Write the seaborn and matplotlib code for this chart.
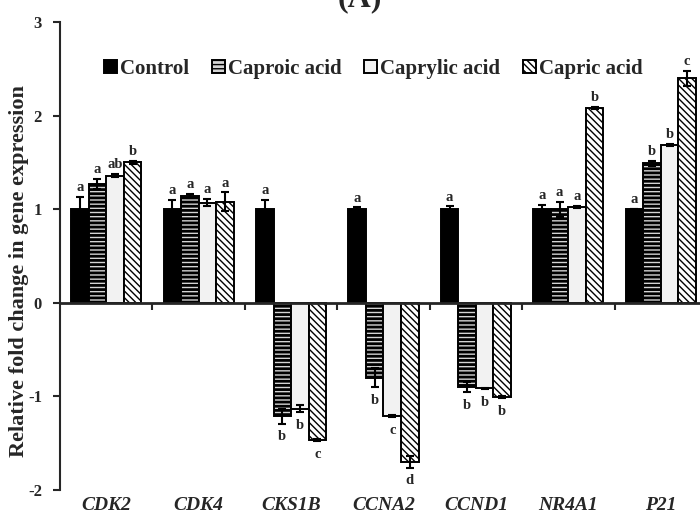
# relative fold change bar chart (A)

import numpy as np
import pandas as pd
import matplotlib
matplotlib.use("Agg")
import matplotlib.pyplot as plt
import seaborn as sns

# data
genes = ["CDK2", "CDK4", "CKS1B", "CCNA2", "CCND1", "NR4A1", "P21"]
treatments = ["Control", "Caproic acid", "Caprylic acid", "Capric acid"]

control = [1.0, 1.0, 1.0, 1.0, 1.0, 1.0, 1.0]
caproic = [1.27, 1.14, -1.21, -0.80, -0.90, 1.0, 1.49]
caprylic = [1.36, 1.07, -1.13, -1.21, -0.915, 1.025, 1.69]
capric = [1.50, 1.08, -1.47, -1.70, -1.01, 2.08, 2.40]

control_err = [0.13, 0.10, 0.10, 0.02, 0.03, 0.05, 0.0]
caproic_err = [0.05, 0.02, 0.08, 0.10, 0.05, 0.08, 0.03]
caprylic_err = [0.02, 0.04, 0.04, 0.01, 0.01, 0.01, 0.01]
capric_err = [0.02, 0.10, 0.01, 0.06, 0.01, 0.01, 0.08]

control_lab = ["a", "a", "a", "a", "a", "a", "a"]
caproic_lab = ["a", "a", "b", "b", "b", "a", "b"]
caprylic_lab = ["ab", "a", "b", "c", "b", "a", "b"]
capric_lab = ["b", "a", "c", "d", "b", "b", "c"]

values = [control, caproic, caprylic, capric]
errors = [control_err, caproic_err, caprylic_err, capric_err]
letters = [control_lab, caproic_lab, caprylic_lab, capric_lab]

df = pd.DataFrame({
    "gene": genes * 4,
    "treatment": np.repeat(treatments, len(genes)),
    "value": control + caproic + caprylic + capric,
})

sns.set_style("ticks")
plt.rcParams["font.family"] = ["Liberation Serif", "DejaVu Serif"]
plt.rcParams["font.weight"] = "bold"
plt.rcParams["axes.unicode_minus"] = False
plt.rcParams["hatch.linewidth"] = 1.0

fig = plt.figure(figsize=(7, 5.25), dpi=100)
ax = fig.add_axes([60 / 700, 35 / 525, 647 / 700, 468 / 525])

faces = ["black", "#d4d4d4", "#f2f2f2", "white"]
hatches = [None, "----", None, "\\\\\\\\\\"]
hatch_lw = [1.0, 2.0, 1.0, 1.0]

sns.barplot(data=df, x="gene", y="value", hue="treatment",
            order=genes, hue_order=treatments, palette=faces, width=0.76,
            errorbar=None, edgecolor="black", linewidth=1.4, legend=False,
            saturation=1, ax=ax)

bars = list(ax.containers)
for i, cont in enumerate(bars):
    for p in cont:
        p.set_facecolor(faces[i])
        p.set_edgecolor("black")
        if hatches[i]:
            p.set_hatch(hatches[i])
            if hasattr(p, "set_hatch_linewidth"):
                p.set_hatch_linewidth(hatch_lw[i])
    xs = [p.get_x() + p.get_width() / 2 for p in cont]
    ax.errorbar(xs, values[i], yerr=errors[i], fmt="none", ecolor="black",
                elinewidth=1.5, capsize=3, capthick=1.5, zorder=5)
    for x, v, e, t in zip(xs, values[i], errors[i], letters[i]):
        if v >= 0:
            ax.annotate(t, (x, v + e), xytext=(0, 2), textcoords="offset points",
                        ha="center", va="bottom", fontsize=10.5, fontweight="bold")
        else:
            ax.annotate(t, (x, v - e), xytext=(0, -5), textcoords="offset points",
                        ha="center", va="top", fontsize=10.5, fontweight="bold")

ax.set_ylim(-2, 3)
ax.set_xlim(-0.5, 6.5)
ax.set_yticks([-2, -1, 0, 1, 2, 3])
ax.tick_params(axis="y", direction="out", length=5, width=1.5, labelsize=12, pad=8)
ax.set_ylabel("Relative fold change in gene expression", fontsize=16, fontweight="bold")
ax.yaxis.set_label_coords(-0.048, 0.468)
ax.set_xlabel("")

# zero line with group separator ticks
sns.despine(ax=ax, top=True, right=True)
ax.spines["bottom"].set_position(("data", 0))
ax.spines["bottom"].set_linewidth(2)
ax.spines["left"].set_linewidth(1.5)
ax.set_xticks(np.arange(0.5, 6, 1))
ax.set_xticklabels([])
ax.tick_params(axis="x", direction="out", length=5, width=1.5)

# gene names along the bottom
sec = ax.secondary_xaxis("bottom")
sec.set_xticks(range(len(genes)))
sec.set_xticklabels(genes, fontsize=14, fontstyle="italic", fontweight="bold")
sec.tick_params(length=0, pad=5)
sec.spines["bottom"].set_visible(False)

ax.legend(handles=bars, labels=treatments, loc="center left",
          bbox_to_anchor=(85 / 700, 1 - 69 / 525), bbox_transform=fig.transFigure,
          ncol=4, frameon=False, handlelength=0.62, handleheight=0.62,
          handletextpad=0.15, columnspacing=1.1,
          prop={"size": 15, "weight": "bold"})

fig.text(360 / 700, 1 - 6 / 525, "(A)", ha="center", va="baseline",
         fontsize=23, fontweight="bold")

fig.savefig("out.png", dpi=100)
